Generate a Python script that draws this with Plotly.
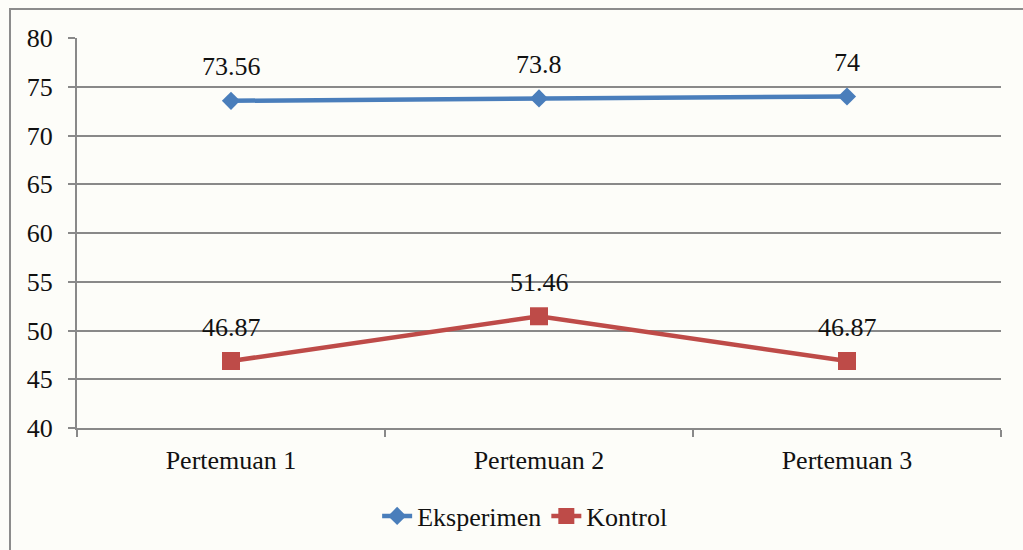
import plotly.graph_objects as go

categories = ["Pertemuan 1", "Pertemuan 2", "Pertemuan 3"]
eksperimen = [73.56, 73.8, 74]
kontrol = [46.87, 51.46, 46.87]
eks_labels = ["73.56", "73.8", "74"]
kon_labels = ["46.87", "51.46", "46.87"]
y_ticks = [40, 45, 50, 55, 60, 65, 70, 75, 80]

W, H = 1023, 550
L, R, T, B = 77, 22, 38, 121
pw, ph = W - L - R, H - T - B

FONT = "Liberation Serif, Times New Roman, serif"
FS = 26
GRID = "#898989"
BLUE = "#4a7ebb"
RED = "#be4b48"

fig = go.Figure()
fig.add_trace(go.Scatter(x=categories, y=eksperimen, mode="lines+markers", name="Eksperimen",
                         line=dict(color=BLUE, width=4.5),
                         marker=dict(symbol="diamond", size=14, color=BLUE)))
fig.add_trace(go.Scatter(x=categories, y=kontrol, mode="lines+markers", name="Kontrol",
                         line=dict(color=RED, width=4.5),
                         marker=dict(symbol="square", size=18, color=RED)))

for c, v, t in zip(categories, eksperimen, eks_labels):
    fig.add_annotation(x=c, y=v, text=t, showarrow=False, yshift=34,
                       font=dict(family=FONT, size=FS, color="#111"))
for c, v, t in zip(categories, kontrol, kon_labels):
    fig.add_annotation(x=c, y=v, text=t, showarrow=False, yshift=34,
                       font=dict(family=FONT, size=FS, color="#111"))

# outer chart border
fig.add_shape(type="rect", xref="paper", yref="paper",
              x0=(10 - L) / pw, x1=(1040 - L) / pw,
              y0=-(H + 20 - (T + ph)) / ph, y1=(T + ph - 9) / ph,
              line=dict(color="#8c8c8c", width=2), fillcolor="rgba(0,0,0,0)", layer="below")

fig.update_layout(
    width=W, height=H,
    margin=dict(l=L, r=R, t=T, b=B),
    paper_bgcolor="#fdfdf9", plot_bgcolor="#fdfdf9",
    font=dict(family=FONT, size=FS, color="#111"),
    showlegend=True,
    legend=dict(orientation="h", x=0.485, xanchor="center", y=(429 - 516) / ph, yanchor="middle",
                font=dict(family=FONT, size=FS, color="#111"), bgcolor="rgba(0,0,0,0)",
                itemwidth=30, tracegroupgap=0),
    xaxis=dict(type="category", range=[-0.5, 2.5], showgrid=False,
               showline=True, linecolor=GRID, linewidth=2,
               ticks="outside", tickson="boundaries", ticklen=7, tickcolor=GRID, tickwidth=2,
               ticklabelstandoff=8, tickfont=dict(family=FONT, size=FS, color="#111")),
    yaxis=dict(range=[40, 80], tickvals=y_ticks, showgrid=True, gridcolor=GRID, gridwidth=2,
               showline=True, linecolor=GRID, linewidth=2, zeroline=False,
               ticks="outside", ticklen=7, tickcolor=GRID, tickwidth=2,
               ticklabelstandoff=10, tickfont=dict(family=FONT, size=FS, color="#111")),
)

fig.write_html("out.html")
